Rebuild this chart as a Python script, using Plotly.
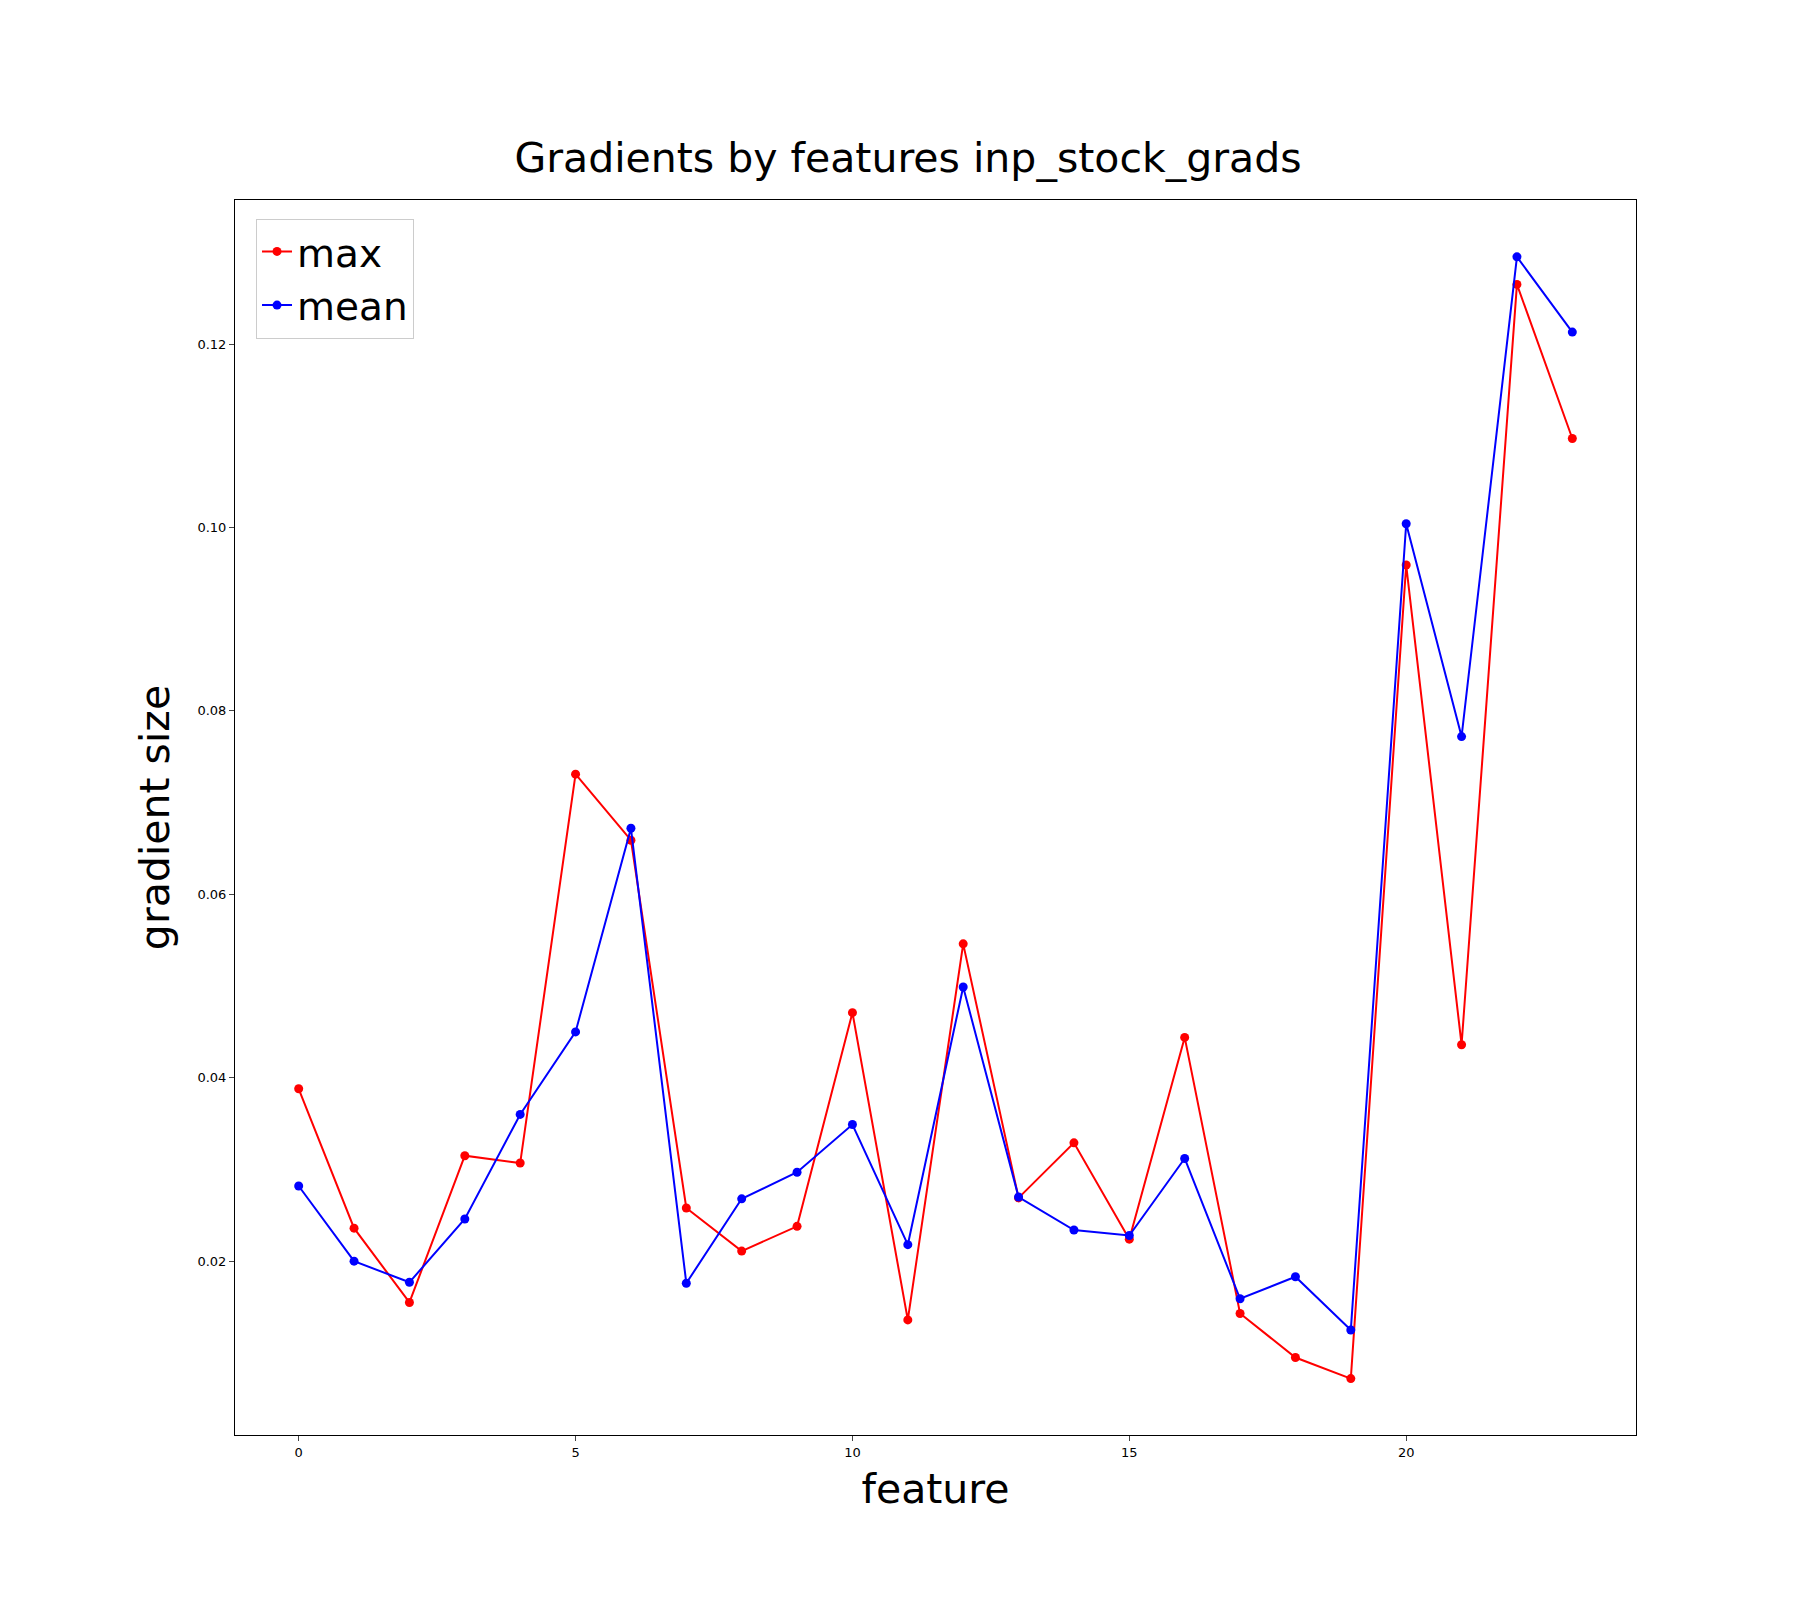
import plotly.graph_objs as go

features = list(range(24))
grad_max = [0.0388, 0.0236, 0.0155, 0.0315, 0.0307, 0.0731, 0.0659, 0.0258, 0.0211, 0.0238,
            0.0471, 0.0136, 0.0546, 0.0269, 0.0329, 0.0224, 0.0444, 0.0143, 0.0095, 0.0072,
            0.0959, 0.0436, 0.1265, 0.1097]
grad_mean = [0.0282, 0.0200, 0.0177, 0.0246, 0.0360, 0.0450, 0.0672, 0.0176, 0.0268, 0.0297,
             0.0349, 0.0218, 0.0499, 0.0270, 0.0234, 0.0228, 0.0312, 0.0159, 0.0183, 0.0125,
             0.1004, 0.0772, 0.1295, 0.1213]
y_ticks = [0.02, 0.04, 0.06, 0.08, 0.10, 0.12]
y_tick_labels = ["0.02", "0.04", "0.06", "0.08", "0.10", "0.12"]

fig = go.Figure()
fig.add_trace(go.Scatter(x=features, y=grad_max, name="max", mode="lines+markers",
                         line=dict(color="red", width=2), marker=dict(size=9, color="red")))
fig.add_trace(go.Scatter(x=features, y=grad_mean, name="mean", mode="lines+markers",
                         line=dict(color="blue", width=2), marker=dict(size=9, color="blue")))

fig.update_layout(
    width=1800, height=1600,
    plot_bgcolor="white", paper_bgcolor="white",
    font=dict(family="DejaVu Sans", color="black"),
    margin=dict(l=227, r=172, t=192, b=173),
    title=dict(text="Gradients by features inp_stock_grads", x=0.5, xanchor="center",
               y=1 - 150 / 1600, yanchor="middle", font=dict(size=41)),
    legend=dict(x=0.015, y=0.985, xanchor="left", yanchor="top", font=dict(size=39),
                bordercolor="#cccccc", borderwidth=1, bgcolor="white"),
    showlegend=True,
)
fig.update_xaxes(range=[-1.15, 24.15], tickvals=[0, 5, 10, 15, 20], ticks="outside",
                 ticklen=5, tickfont=dict(size=13), showgrid=False, zeroline=False,
                 showline=True, linecolor="black", mirror=True,
                 title=dict(text="feature", font=dict(size=41)))
fig.update_yaxes(range=[0.00105, 0.1357], tickvals=y_ticks, ticktext=y_tick_labels,
                 ticks="outside", ticklen=5, tickfont=dict(size=13), showgrid=False,
                 zeroline=False, showline=True, linecolor="black", mirror=True,
                 title=dict(text="gradient size", font=dict(size=41)))

fig.write_html("out.html")
